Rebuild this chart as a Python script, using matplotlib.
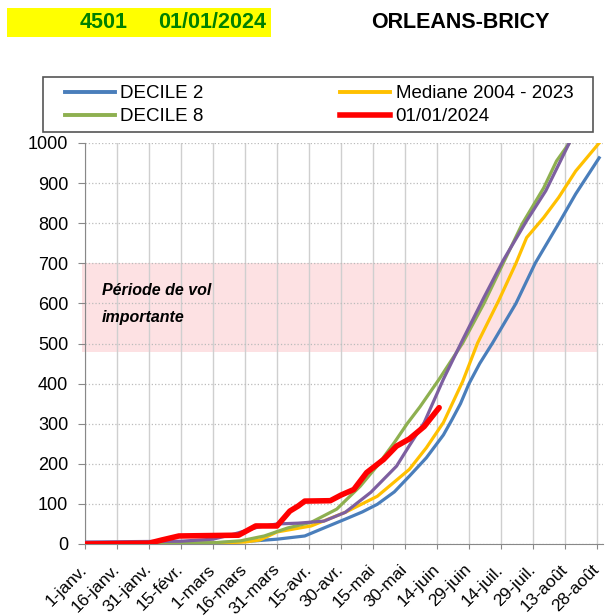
import matplotlib
matplotlib.use("Agg")
import matplotlib.pyplot as plt
from matplotlib.patches import Rectangle
from matplotlib.lines import Line2D

plt.rcParams["font.family"] = ["Liberation Sans", "DejaVu Sans"]

tick_days = list(range(0, 241, 15))
tick_labels = ["1-janv.", "16-janv.", "31-janv.", "15-févr.", "1-mars", "16-mars",
               "31-mars", "15-avr.", "30-avr.", "15-mai", "30-mai", "14-juin",
               "29-juin", "14-juil.", "29-juil.", "13-août", "28-août"]

d2_days = [0, 30, 60, 70, 80, 90, 103, 112, 122, 130, 137, 145, 152, 160, 168,
           172, 176, 180, 185, 191, 202, 211, 222, 230, 241]
d2_vals = [2, 2, 3, 5, 8, 12, 20, 40, 62, 80, 99, 130, 169, 215, 272,
           310, 350, 400, 450, 501, 600, 700, 799, 873, 963]

med_days = [0, 60, 75, 82, 90, 106, 122, 137, 152, 160, 168, 177, 184, 194,
            202, 207, 215, 222, 230, 241]
med_vals = [0, 2, 5, 10, 30, 45, 79, 119, 186, 240, 303, 405, 501, 608,
            700, 764, 814, 864, 930, 1000]

d8_days = [0, 60, 73, 84, 95, 106, 118, 129, 137, 145, 151, 157, 166, 177,
           187, 196, 205, 215, 221, 227]
d8_vals = [0, 3, 8, 20, 40, 54, 87, 144, 195, 253, 300, 342, 411, 501,
           600, 700, 799, 888, 955, 1000]

other_days = [0, 45, 60, 70, 81, 90, 100, 112, 122, 134, 146, 152, 159, 168,
              177, 187, 196, 207, 216, 227]
other_vals = [5, 7, 12, 25, 42, 50, 52, 57, 79, 129, 194, 245, 303, 411,
              509, 615, 707, 806, 881, 1000]

cur_days = [0, 30, 36, 44, 72, 80, 90, 96, 100, 103, 115, 120, 126, 132,
            140, 146, 152, 159, 166]
cur_vals = [0, 2, 10, 20, 22, 45, 45, 82, 95, 107, 108, 122, 136, 178,
            211, 244, 262, 293, 340]

W, H = 613, 616
fig = plt.figure(figsize=(W / 100, H / 100), dpi=100)
ax = fig.add_axes([85 / W, 72 / H, 518 / W, 401 / H])

# period band
ax.add_patch(Rectangle((-1.4, 479), 241.4, 221, facecolor="#fde1e3",
                       edgecolor="none", clip_on=False, zorder=0))
ax.text(8, 633, "Période de vol", fontsize=11.5, fontweight="bold",
        fontstyle="italic", va="center", ha="left")
ax.text(8, 565, "importante", fontsize=11.5, fontweight="bold",
        fontstyle="italic", va="center", ha="left")

ax.plot(d2_days, d2_vals, color="#4a7ebb", lw=2.3, zorder=3)
ax.plot(med_days, med_vals, color="#ffc000", lw=2.3, zorder=3)
ax.plot(d8_days, d8_vals, color="#8eb050", lw=2.3, zorder=3)
ax.plot(other_days, other_vals, color="#7d5fa0", lw=2.3, zorder=4)
ax.plot(cur_days, cur_vals, color="#ff0000", lw=4.0, zorder=5,
        solid_capstyle="round")

ax.set_xlim(0, 242.8)
ax.set_ylim(0, 1000)
ax.set_yticks(range(0, 1001, 100))
ax.set_xticks(tick_days)
ax.set_xticklabels(tick_labels, rotation=45, ha="right", va="center",
                   rotation_mode="anchor", fontsize=12.5)
ax.tick_params(axis="y", labelsize=13, length=5, color="#888888", pad=7)
ax.tick_params(axis="x", length=3.6, color="#888888", pad=13)

ax.grid(axis="x", color="#cfcfcf", lw=1.0, ls="-", zorder=1)
ax.grid(axis="y", color="#bbbbbb", lw=0.9, ls=":", zorder=1)
ax.set_axisbelow(True)
for s in ["top", "right"]:
    ax.spines[s].set_visible(False)
for s in ["left", "bottom"]:
    ax.spines[s].set_color("#888888")

# legend
fig.patches.append(Rectangle((43 / W, 1 - 132 / H), 550 / W, 55 / H,
                             transform=fig.transFigure, facecolor="white",
                             edgecolor="#555555", lw=1.2))
handles = [Line2D([], [], color="#4a7ebb", lw=2.8),
           Line2D([], [], color="#8eb050", lw=2.8),
           Line2D([], [], color="#ffc000", lw=2.8),
           Line2D([], [], color="#ff0000", lw=4.0)]
labels = ["DECILE 2", "DECILE 8", "Mediane 2004 - 2023", "01/01/2024"]
fig.legend(handles, labels, ncol=2, loc="center left",
           bbox_to_anchor=(65 / W, 1 - 105.3 / H), fontsize=13.5,
           frameon=False, handlelength=2.67, handletextpad=0.27,
           borderpad=0, borderaxespad=0, labelspacing=0.3,
           columnspacing=7.3)

# header
fig.patches.append(Rectangle((7 / W, 1 - 37 / H), 264 / W, 29 / H,
                             transform=fig.transFigure, facecolor="#ffff00",
                             edgecolor="none"))
fig.text(80 / W, 1 - 23 / H, "4501", color="#008000", fontsize=15.5,
         fontweight="bold", va="center", ha="left")
fig.text(158 / W, 1 - 23 / H, "01/01/2024", color="#008000", fontsize=15.5,
         fontweight="bold", va="center", ha="left")
fig.text(460 / W, 1 - 23 / H, "ORLEANS-BRICY", color="black", fontsize=15.5,
         fontweight="bold", va="center", ha="center")

fig.savefig("out.png", dpi=100)
